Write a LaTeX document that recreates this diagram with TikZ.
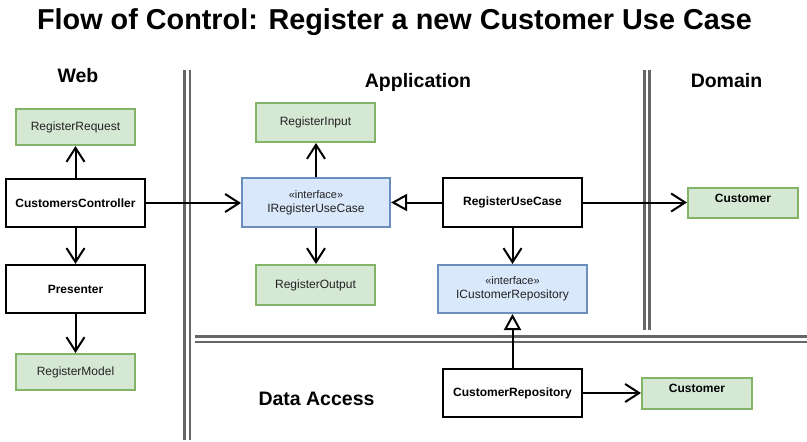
\documentclass[tikz,border=0pt]{standalone}
\usepackage{fontspec}
\setmainfont{Liberation Sans}
\usetikzlibrary{arrows.meta}
\definecolor{gfill}{HTML}{D5E8D4}
\definecolor{gdraw}{HTML}{82B366}
\definecolor{bfill}{HTML}{DAE8FC}
\definecolor{bdraw}{HTML}{6C8EBF}
\definecolor{sepgray}{HTML}{666666}
\definecolor{txt}{HTML}{222222}
\begin{document}
\begin{tikzpicture}[x=1pt,y=-1pt,
  box/.style={draw, line width=2pt, inner sep=0pt, text=txt, font=\fontsize{12}{14}\selectfont},
  greenbox/.style={box, fill=gfill, draw=gdraw},
  bluebox/.style={box, fill=bfill, draw=bdraw, align=center},
  classbox/.style={box, fill=white, draw=black, line width=2.2pt, text=black, font=\fontsize{12}{14}\selectfont\bfseries},
  toplabel/.style={label={[yshift=5pt, font=\fontsize{12}{14}\selectfont\bfseries, text=black]center:#1}},
  arr/.style={line width=2pt, -{Straight Barb[length=14pt,width=18pt]}},
  real/.style={line width=2pt, -{Triangle[open, length=16pt, width=17pt, fill=white]}},
  sepline/.style={draw=sepgray, line width=2.8pt},
  header/.style={font=\fontsize{19.5}{22}\selectfont\bfseries, anchor=base}]
\useasboundingbox (0,0) rectangle (807,442);

% title and headers
\node[font=\fontsize{28.8}{32}\selectfont\bfseries, anchor=base] (title) at (394.5,29) {Flow of Control: Register a new Customer Use Case};
\node[header] (hweb) at (78,82) {Web};
\node[header] (happ) at (418,87) {Application};
\node[header] (hdom) at (726.5,87) {Domain};
\node[header] (hdata) at (316.5,405) {Data Access};

% separators
\draw[sepline] (184.7,70) -- (184.7,440);
\draw[sepline] (190,70) -- (190,440);
\draw[sepline] (644.7,70) -- (644.7,330);
\draw[sepline] (649.7,70) -- (649.7,330);
\draw[sepline] (195,336.3) -- (807,336.3);
\draw[sepline] (195,342) -- (807,342);

% web
\node[greenbox, minimum width=119pt, minimum height=36pt] (rr) at (75.5,127) {RegisterRequest};
\node[classbox, minimum width=139pt, minimum height=48pt] (cc) at (75.5,203) {CustomersController};
\node[classbox, minimum width=139pt, minimum height=48pt] (pres) at (75.5,289) {Presenter};
\node[greenbox, minimum width=119pt, minimum height=36pt] (rm) at (75.5,372) {RegisterModel};

% application
\node[greenbox, minimum width=119pt, minimum height=39pt] (rin) at (315.5,122.5) {RegisterInput};
\node[bluebox, minimum width=148pt, minimum height=49pt] (iruc) at (316,202.5) {{\fontsize{11}{12}\selectfont «interface»}\\IRegisterUseCase};
\node[greenbox, minimum width=119pt, minimum height=40pt] (rout) at (315.5,285) {RegisterOutput};
\node[classbox, minimum width=139pt, minimum height=49pt] (ruc) at (512.5,202.5) {RegisterUseCase};
\node[bluebox, minimum width=149pt, minimum height=48pt] (icr) at (512.5,289) {{\fontsize{11}{12}\selectfont «interface»}\\ICustomerRepository};

% domain
\node[greenbox, minimum width=110pt, minimum height=30pt, toplabel=Customer] (custd) at (743,203) {};

% data access
\node[classbox, minimum width=139pt, minimum height=48pt] (cr) at (512.5,393) {CustomerRepository};
\node[greenbox, minimum width=110pt, minimum height=31pt, toplabel=Customer] (custa) at (697,393.5) {};

% connectors
\draw[arr] (cc.north) -- (rr.south);
\draw[arr] (cc.south) -- (pres.north);
\draw[arr] (pres.south) -- (rm.north);
\draw[arr] (cc.east) -- (cc.east -| iruc.west);
\draw[arr] (iruc.north) -- (iruc.north |- rin.south);
\draw[arr] (iruc.south) -- (iruc.south |- rout.north);
\draw[real] (ruc.west) -- (ruc.west -| iruc.east);
\draw[arr] (ruc.east) -- (ruc.east -| custd.west);
\draw[arr] (ruc.south) -- (icr.north);
\draw[real] (cr.north) -- (icr.south);
\draw[arr] (cr.east) -- (cr.east -| custa.west);
\end{tikzpicture}
\end{document}
